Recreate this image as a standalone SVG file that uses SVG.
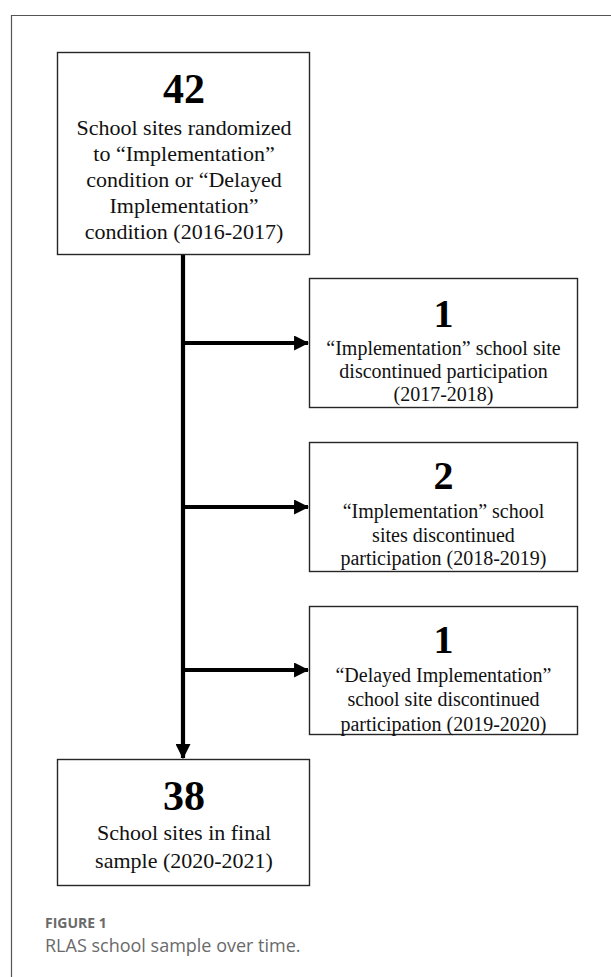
<svg xmlns="http://www.w3.org/2000/svg" width="611" height="977" viewBox="0 0 611 977">
<defs>
<style>
.box{fill:#fff;stroke:#262626;stroke-width:1.4}
.num{font-family:"Liberation Serif","Times New Roman",serif;font-weight:bold;fill:#000;text-anchor:middle}
.t{font-family:"Liberation Serif","Times New Roman",serif;fill:#111;text-anchor:middle}
.c{stroke:#000;stroke-width:4.2;fill:none}
</style>
<marker id="ah" viewBox="0 0 14 14" refX="13" refY="7" markerUnits="userSpaceOnUse" markerWidth="15" markerHeight="15" orient="auto">
<path d="M0,0 L14,7 L0,14 Z" fill="#000"/>
</marker>
</defs>
<rect width="611" height="977" fill="#fff"/>
<path d="M611 15.5 H11.5 V977" fill="none" stroke="#555" stroke-width="1.2"/>
<g id="connectors">
<line class="c" x1="183" y1="255" x2="183" y2="758" marker-end="url(#ah)"/>
<line class="c" x1="181" y1="343" x2="308" y2="343" marker-end="url(#ah)"/>
<line class="c" x1="181" y1="507" x2="308" y2="507" marker-end="url(#ah)"/>
<line class="c" x1="181" y1="670" x2="308" y2="670" marker-end="url(#ah)"/>
</g>
<g id="n42">
<rect class="box" x="57.5" y="52.5" width="252" height="202"/>
<text class="num" x="184" y="103" font-size="42">42</text>
<text class="t" font-size="22"><tspan x="184" y="135">School sites randomized</tspan><tspan x="184" y="161">to “Implementation”</tspan><tspan x="184" y="187">condition or “Delayed</tspan><tspan x="184" y="213">Implementation”</tspan><tspan x="184" y="239">condition (2016-2017)</tspan></text>
</g>
<g id="n1a">
<rect class="box" x="309.5" y="278.5" width="268" height="129"/>
<text class="num" x="443.5" y="327" font-size="40">1</text>
<text class="t" font-size="20"><tspan x="443.5" y="355">“Implementation” school site</tspan><tspan x="443.5" y="378">discontinued participation</tspan><tspan x="443.5" y="401">(2017-2018)</tspan></text>
</g>
<g id="n2">
<rect class="box" x="309.5" y="442.5" width="268" height="129"/>
<text class="num" x="443.5" y="489" font-size="40">2</text>
<text class="t" font-size="20"><tspan x="443.5" y="518">“Implementation” school</tspan><tspan x="443.5" y="542">sites discontinued</tspan><tspan x="443.5" y="565">participation (2018-2019)</tspan></text>
</g>
<g id="n1b">
<rect class="box" x="309.5" y="606.5" width="268" height="128"/>
<text class="num" x="443.5" y="653" font-size="40">1</text>
<text class="t" font-size="20"><tspan x="443.5" y="682">“Delayed Implementation”</tspan><tspan x="443.5" y="706">school site discontinued</tspan><tspan x="443.5" y="731">participation (2019-2020)</tspan></text>
</g>
<g id="n38">
<rect class="box" x="57.5" y="759.5" width="252" height="126"/>
<text class="num" x="184" y="810" font-size="42">38</text>
<text class="t" font-size="22"><tspan x="184" y="840">School sites in final</tspan><tspan x="184" y="868">sample (2020-2021)</tspan></text>
</g>
<g id="caption">
<text x="45" y="928" font-family="'Open Sans','Noto Sans',sans-serif" font-size="14" font-weight="bold" fill="#6a6a6a">FIGURE 1</text>
<text x="45" y="952" font-family="'Open Sans','Noto Sans',sans-serif" font-size="18" fill="#6a6a6a">RLAS school sample over time.</text>
</g>
</svg>
